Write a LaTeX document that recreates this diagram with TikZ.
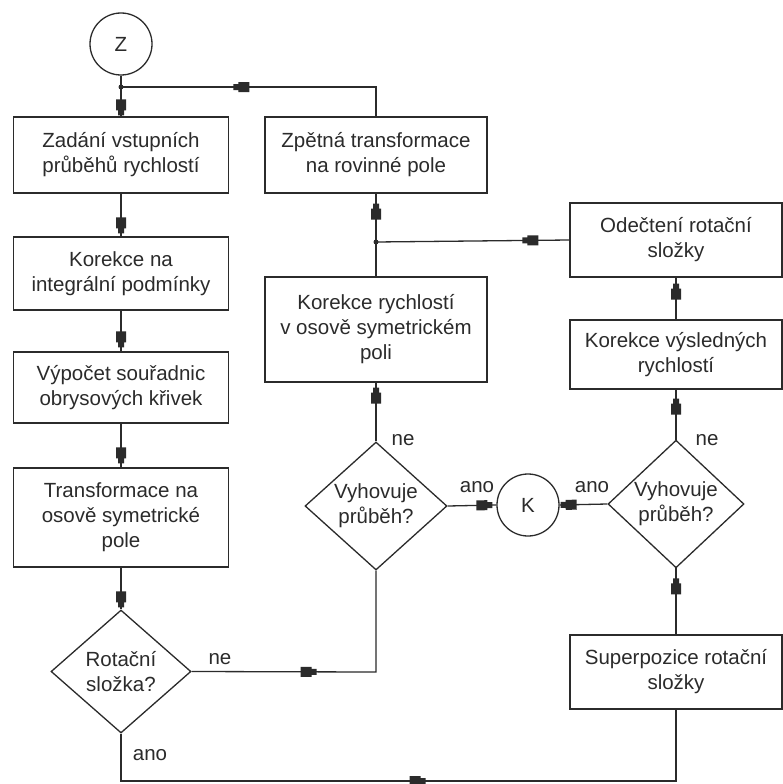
\documentclass[tikz,border=0pt]{standalone}
\usepackage{fontspec}
\setmainfont{Liberation Sans}
\usetikzlibrary{shapes.geometric,decorations.markings}
\definecolor{ink}{HTML}{2B2B2B}
\newcommand{\flowfont}{\fontsize{20.5}{25}\selectfont}
\begin{document}
\begin{tikzpicture}[x=1pt,y=-1pt,
  ln/.style={draw=ink, line width=1.3pt},
  box/.style={rectangle, draw=ink, line width=1.3pt, inner sep=0pt, align=center, font=\flowfont, text=ink},
  dec/.style={diamond, draw=ink, line width=1.3pt, inner sep=0pt, align=center, font=\flowfont, text=ink},
  conn/.style={circle, draw=ink, line width=1.3pt, inner sep=0pt, minimum size=62pt, font=\flowfont, text=ink},
  lbl/.style={font=\flowfont, text=ink, inner sep=0pt},
  jdot/.style={circle, fill=ink, inner sep=0pt, minimum size=5pt},
  blkat/.style={postaction={decorate,decoration={markings,mark=at position #1 with {\fill[ink] (-16pt,-5pt) rectangle (-5pt,5pt) (-5.5pt,-3pt) rectangle (0pt,3pt);}}}}
]
\useasboundingbox[fill=white] (0,0) rectangle (782,784);

% left column
\node[conn] (z) at (121,44) {Z};
\node[box, minimum width=215pt, minimum height=76pt] (zad) at (121,155) {Zadání vstupních\\průběhů rychlostí};
\node[box, minimum width=215pt, minimum height=73pt] (kor1) at (121,273.5) {Korekce na\\integrální podmínky};
\node[box, minimum width=215pt, minimum height=71pt] (vyp) at (121,387.5) {Výpočet souřadnic\\obrysových křivek};
\node[box, minimum width=215pt, minimum height=99pt] (tra) at (121,517.5) {Transformace na\\osově symetrické\\pole};
\node[dec, minimum width=140pt, minimum height=123pt] (rot) at (121,671.5) {Rotační\\složka?};

% middle column
\node[box, minimum width=222pt, minimum height=76pt] (zpe) at (376,155) {Zpětná transformace\\na rovinné pole};
\node[box, minimum width=222pt, minimum height=105pt] (kor2) at (376,329.5) {Korekce rychlostí\\v osově symetrickém\\poli};
\node[dec, minimum width=142pt, minimum height=128pt] (vyh1) at (376,506) {Vyhovuje\\průběh?};
\node[conn] (k) at (528,505) {K};

% right column
\node[box, minimum width=212pt, minimum height=74pt] (ode) at (676,240) {Odečtení rotační\\složky};
\node[box, minimum width=212pt, minimum height=69pt] (kor3) at (676,354.5) {Korekce výsledných\\rychlostí};
\node[dec, minimum width=136pt, minimum height=127pt] (vyh2) at (676,504) {Vyhovuje\\průběh?};
\node[box, minimum width=212pt, minimum height=74pt] (sup) at (676,672) {Superpozice rotační\\složky};

% helper points
\coordinate (j1) at (121,87);
\coordinate (j2) at (376,242);
\coordinate (c1) at (376,87);
\coordinate (c2) at (376,672);
\coordinate (c3) at (121,781);
\coordinate (c4) at (676,781);

% connectors
\draw[ln] (z) -- (j1);
\draw[ln, blkat=-1pt] (j1) -- (zad);
\draw[ln, blkat=-3pt] (zad) -- (kor1);
\draw[ln, blkat=-4pt] (kor1) -- (vyp);
\draw[ln, blkat=-4pt] (vyp) -- (tra);
\draw[ln, blkat=-2pt] (tra) -- (rot);
\draw[ln, blkat=125pt] (rot.east) -- (c2) -- (vyh1.south);
\draw[ln, blkat=352pt] (rot.south) -- (c3) -- (c4) -- (sup.south);
\draw[ln, blkat=-5pt] (vyh1.north) -- (kor2.south);
\draw[ln] (kor2.north) -- (j2);
\draw[ln, blkat=-10pt] (j2) -- (zpe.south);
\draw[ln, blkat=172pt] (zpe.north) -- (c1) -- (j1);
\draw[ln, blkat=-4pt] (vyh1.east) -- (k.west);
\draw[ln, blkat=-1pt] (vyh2.west) -- (k.east);
\draw[ln, blkat=-10pt] (sup.north) -- (vyh2.south);
\draw[ln, blkat=-9pt] (vyh2.north) -- (kor3.south);
\draw[ln, blkat=-6pt] (kor3.north) -- (ode.south);
\draw[ln, blkat=47pt] (ode.west) -- (j2);

\node[jdot] (d1) at (j1) {};
\node[jdot] (d2) at (j2) {};

% labels
\node[lbl] (l1) at (220,659) {ne};
\node[lbl] (l2) at (150,755) {ano};
\node[lbl] (l3) at (403,440) {ne};
\node[lbl] (l4) at (477,487) {ano};
\node[lbl] (l5) at (707,440) {ne};
\node[lbl] (l6) at (592,487) {ano};
\end{tikzpicture}
\end{document}
